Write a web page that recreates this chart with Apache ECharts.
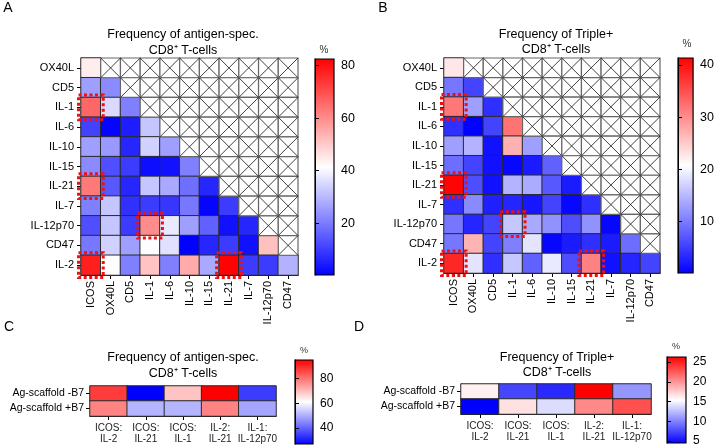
<!DOCTYPE html>
<html>
<head>
<meta charset="utf-8">
<title>Frequency heatmaps</title>
<script src="https://cdn.jsdelivr.net/npm/echarts@6/dist/echarts.min.js"></script>
<style>
  html, body { margin: 0; padding: 0; background: #fff; }
  #chart { width: 717px; height: 448px; }
</style>
</head>
<body>
<div id="chart"></div>
<script>
  // axes of the combination matrices (A, B)
  const colMarkers = ['ICOS', 'OX40L', 'CD5', 'IL-1', 'IL-6', 'IL-10', 'IL-15', 'IL-21', 'IL-7', 'IL-12p70', 'CD47']
  const rowMarkers = ['OX40L', 'CD5', 'IL-1', 'IL-6', 'IL-10', 'IL-15', 'IL-21', 'IL-7', 'IL-12p70', 'CD47', 'IL-2']

  // lower triangle, one row per rowMarkers entry (% of antigen-spec. CD8+)
  const freqA = [
    [44.5],
    [26, 22.7],
    [66, 35.5, 21],
    [11, 1, 5, 32],
    [26, 25, 6.5, 34, 26],
    [22.7, 13, 10, 2.5, 3.2, 21],
    [63, 14.5, 6.5, 32, 27.5, 18, 6.5],
    [21, 32, 8, 10, 9, 19.5, 1, 10],
    [13, 32, 10, 60, 38, 26, 16, 3, 6.5],
    [19.5, 34, 26, 41, 36.5, 0.5, 6.5, 10, 3, 51.5],
    [77.5, 41.5, 21, 51, 21, 55, 27.5, 82, 10, 10, 29]
  ]
  // same layout, % of Triple+ CD8+
  const freqB = [
    [22.7],
    [9.7, 5.7],
    [31.6, 13, 4],
    [4, 0.3, 5.7, 32],
    [13, 14.6, 1.6, 27, 13],
    [9, 5.7, 1.6, 0.8, 2.4, 8],
    [41, 6.5, 1.6, 14.6, 14, 7.3, 2.4],
    [4, 11.3, 2.8, 3.2, 2, 5.7, 0.8, 4],
    [9.7, 3.2, 5.7, 16.2, 13.8, 12, 6.5, 12, 0.8],
    [9.7, 26.8, 5.7, 10.5, 18.6, 0.8, 2.4, 4, 2.4, 9],
    [38.2, 18.6, 4, 16.2, 8, 19, 6.5, 30.8, 1.6, 3.2, 5.7]
  ]
  // [col, row] cells boxed in red
  const highlightCells = [['ICOS', 'IL-1'], ['ICOS', 'IL-21'], ['IL-1', 'IL-12p70'], ['ICOS', 'IL-2'], ['IL-21', 'IL-2']]

  // scaffold comparison (C, D)
  const comboLabels = ['ICOS:\nIL-2', 'ICOS:\nIL-21', 'ICOS:\nIL-1', 'IL-2:\nIL-21', 'IL-1:\nIL-12p70']
  const scaffoldRows = ['Ag-scaffold -B7', 'Ag-scaffold +B7']
  const freqC_minusB7 = [87, 27, 69, 95, 35]
  const freqC_plusB7 = [77.6, 51, 51, 77.6, 49]
  const freqD_minusB7 = [16, 7.5, 6.2, 26.3, 10.9]
  const freqD_plusB7 = [4.5, 16.7, 13.9, 20.5, 22.9]

  // colour scale ranges and colourbar ticks
  const rangeA = [0.3, 82.5], ticksA = [20, 40, 60, 80]
  const rangeB = [0.2, 41.3], ticksB = [10, 20, 30, 40]
  const rangeC = [27, 95], ticksC = [40, 60, 80]
  const rangeD = [4.5, 26.3], ticksD = [5, 10, 15, 20, 25]
  const scaleColors = ['#0000ff', '#ffffff', '#ff0000']

  const FONT = '"Liberation Sans", Arial, Helvetica, sans-serif'
  const heatGrids = [
    { left: 81, top: 58, width: 217, height: 217 },
    { left: 444, top: 58, width: 216, height: 215 },
    { left: 90, top: 386, width: 186, height: 30 },
    { left: 461, top: 384, width: 190, height: 30 }
  ]
  const barGrids = [
    { left: 315, top: 59, width: 19, height: 216 },
    { left: 678, top: 58, width: 19, height: 215 },
    { left: 295, top: 360, width: 18, height: 84 },
    { left: 667, top: 357, width: 19, height: 86 }
  ]

  function triangleData(rows) {
    const out = []
    rows.forEach((vals, r) => vals.forEach((v, c) => out.push([c, r, v])))
    return out
  }
  function crossedCells() {
    const out = []
    rowMarkers.forEach((_, r) => {
      for (let c = r + 1; c < colMarkers.length; c++) out.push([c, r])
    })
    return out
  }
  function highlightData() {
    return highlightCells.map(p => [colMarkers.indexOf(p[0]), rowMarkers.indexOf(p[1])])
  }
  function rowsData(minus, plus) {
    const out = []
    minus.forEach((v, c) => out.push([c, 0, v]))
    plus.forEach((v, c) => out.push([c, 1, v]))
    return out
  }

  function renderCross(params, api) {
    const p = api.coord([api.value(0), api.value(1)])
    const s = api.size([1, 1])
    const x = p[0] - s[0] / 2, y = p[1] - s[1] / 2
    return {
      type: 'group',
      children: [
        { type: 'rect', shape: { x: x, y: y, width: s[0], height: s[1] }, style: { fill: '#fff', stroke: '#666', lineWidth: 1.2 } },
        { type: 'line', shape: { x1: x, y1: y, x2: x + s[0], y2: y + s[1] }, style: { stroke: '#111', lineWidth: 0.8 } },
        { type: 'line', shape: { x1: x + s[0], y1: y, x2: x, y2: y + s[1] }, style: { stroke: '#111', lineWidth: 0.8 } }
      ]
    }
  }
  function renderBox(params, api) {
    const p = api.coord([api.value(0), api.value(1)])
    const s = api.size([1, 1])
    const pad = 2.5
    return {
      type: 'rect',
      shape: { x: p[0] - s[0] / 2 - pad, y: p[1] - s[1] / 2 - pad, width: s[0] + 2 * pad, height: s[1] + 2 * pad },
      style: { fill: 'none', stroke: '#f01010', lineWidth: 3, lineDash: [3, 2.5] }
    }
  }

  const axisLine = { show: true, lineStyle: { color: '#000', width: 1.2 } }
  const axisTick = { show: true, alignWithLabel: true, length: 4, lineStyle: { color: '#000' } }

  const xAxes = [], yAxes = []
  // heatmap axes
  ;[0, 1].forEach(i => {
    xAxes.push({ gridIndex: i, type: 'category', data: colMarkers, axisLine, axisTick, splitLine: { show: false },
      axisLabel: { rotate: 90, fontSize: 11, color: '#000', fontFamily: FONT, margin: 6, interval: 0 } })
    yAxes.push({ gridIndex: i, type: 'category', data: rowMarkers, inverse: true, axisLine, axisTick, splitLine: { show: false },
      axisLabel: { fontSize: 11, color: '#000', fontFamily: FONT, margin: 7, interval: 0 } })
  })
  ;[2, 3].forEach(i => {
    xAxes.push({ gridIndex: i, type: 'category', data: comboLabels, axisLine, axisTick, splitLine: { show: false },
      axisLabel: { fontSize: 10, color: '#222', fontFamily: FONT, margin: 7, interval: 0, lineHeight: 11 } })
    yAxes.push({ gridIndex: i, type: 'category', data: scaffoldRows, inverse: true, axisLine, axisTick, splitLine: { show: false },
      axisLabel: { fontSize: 10.5, color: '#000', fontFamily: FONT, margin: 6, interval: 0 } })
  })
  // colourbar axes
  const ranges = [rangeA, rangeB, rangeC, rangeD]
  const ticks = [ticksA, ticksB, ticksC, ticksD]
  ;[0, 1, 2, 3].forEach(i => {
    xAxes.push({ gridIndex: 4 + i, type: 'value', min: 0, max: 1, show: false })
    yAxes.push({ gridIndex: 4 + i, type: 'value', position: 'right', min: ranges[i][0], max: ranges[i][1],
      axisLine: { show: true, lineStyle: { color: '#000' } },
      axisTick: { show: true, length: 4, customValues: ticks[i], lineStyle: { color: '#000' } },
      axisLabel: { customValues: ticks[i], fontSize: i < 2 ? 12.5 : 12, color: '#000', fontFamily: FONT, margin: 7 },
      splitLine: { show: false } })
  })

  // colourbar: gradient fill (white at the middle of each range, as in the visualMap)
  const barFill = new echarts.graphic.LinearGradient(0, 0, 0, 1, [
    { offset: 0, color: scaleColors[2] },
    { offset: 0.5, color: scaleColors[1] },
    { offset: 1, color: scaleColors[0] }
  ])
  const grids = heatGrids.concat(barGrids.map(g => Object.assign({ show: true, borderColor: '#000', borderWidth: 1.2, backgroundColor: barFill }, g)))

  const visualMaps = barGrids.map((g, i) => ({
    type: 'continuous', seriesIndex: i, min: ranges[i][0], max: ranges[i][1], show: false,
    inRange: { color: scaleColors }
  }))

  const heatItem = { borderColor: '#2a2a2a', borderWidth: 1 }
  const series = [
    { type: 'heatmap', xAxisIndex: 0, yAxisIndex: 0, data: triangleData(freqA), itemStyle: heatItem, emphasis: { disabled: true } },
    { type: 'heatmap', xAxisIndex: 1, yAxisIndex: 1, data: triangleData(freqB), itemStyle: heatItem, emphasis: { disabled: true } },
    { type: 'heatmap', xAxisIndex: 2, yAxisIndex: 2, data: rowsData(freqC_minusB7, freqC_plusB7), itemStyle: heatItem, emphasis: { disabled: true } },
    { type: 'heatmap', xAxisIndex: 3, yAxisIndex: 3, data: rowsData(freqD_minusB7, freqD_plusB7), itemStyle: heatItem, emphasis: { disabled: true } },
    { type: 'custom', xAxisIndex: 0, yAxisIndex: 0, data: crossedCells(), renderItem: renderCross, silent: true },
    { type: 'custom', xAxisIndex: 1, yAxisIndex: 1, data: crossedCells(), renderItem: renderCross, silent: true },
    { type: 'custom', xAxisIndex: 0, yAxisIndex: 0, data: highlightData(), renderItem: renderBox, clip: false, z: 20, silent: true },
    { type: 'custom', xAxisIndex: 1, yAxisIndex: 1, data: highlightData(), renderItem: renderBox, clip: false, z: 20, silent: true }
  ]

  function label(text, x, y, size, color) {
    return { type: 'text', x: x, y: y, silent: true,
      style: { text: text, fontSize: size, fontFamily: FONT, fill: color || '#000', align: 'center', verticalAlign: 'middle' } }
  }
  const graphics = [
    label('A', 8, 8, 14), label('B', 383, 8, 14), label('C', 9, 327, 14), label('D', 359, 327, 14),
    label('Frequency of antigen-spec.', 183, 35, 12.5), label('CD8\u207A T-cells', 183, 50.5, 12.5),
    label('Frequency of Triple+', 556, 35, 12.5), label('CD8\u207A T-cells', 556, 49.5, 12.5),
    label('Frequency of antigen-spec.', 183, 358, 12.5), label('CD8\u207A T-cells', 183, 374, 12.5),
    label('Frequency of Triple+', 557, 358, 12.5), label('CD8\u207A T-cells', 557, 373, 12.5),
    label('%', 324, 50, 10, '#333'), label('%', 687, 44, 10, '#333'),
    label('%', 304, 351, 9, '#333'), label('%', 676, 347, 9, '#333')
  ]

  const chart = echarts.init(document.getElementById('chart'))
  chart.setOption({
    animation: false,
    backgroundColor: '#fff',
    grid: grids,
    xAxis: xAxes,
    yAxis: yAxes,
    visualMap: visualMaps,
    series: series,
    graphic: graphics
  })
</script>
</body>
</html>
